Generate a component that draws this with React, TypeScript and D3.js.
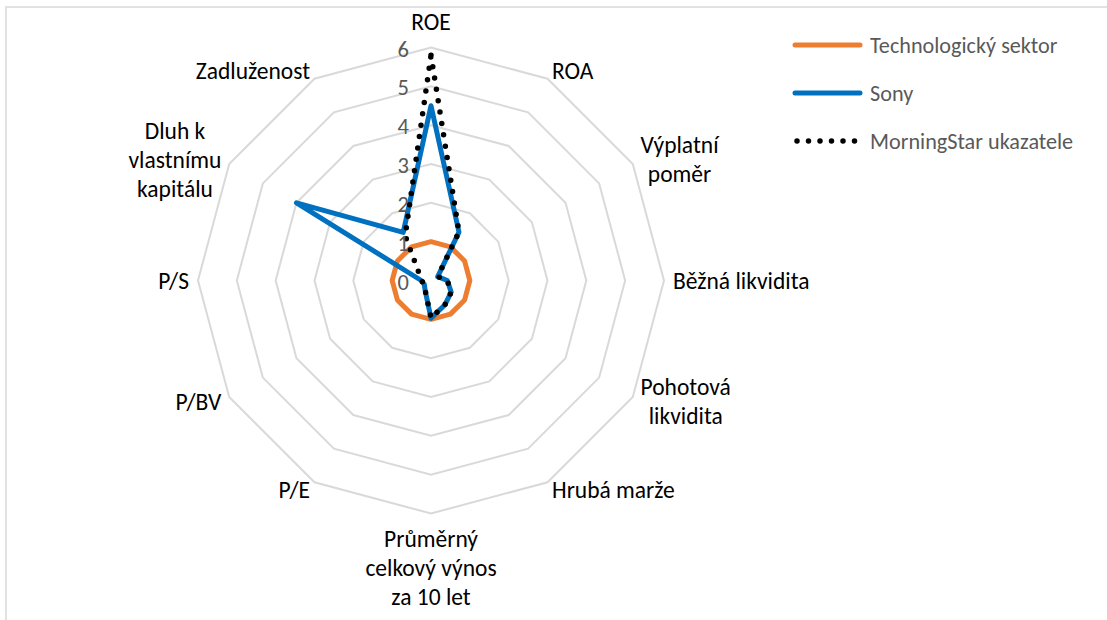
import React from "react";
import * as d3 from "d3";

const categories = [
  "ROE",
  "ROA",
  "Výplatní poměr",
  "Běžná likvidita",
  "Pohotová likvidita",
  "Hrubá marže",
  "Průměrný celkový výnos za 10 let",
  "P/E",
  "P/BV",
  "P/S",
  "Dluh k vlastnímu kapitálu",
  "Zadluženost",
];

const categoryLines = [
  ["ROE"],
  ["ROA"],
  ["Výplatní", "poměr"],
  ["Běžná likvidita"],
  ["Pohotová", "likvidita"],
  ["Hrubá marže"],
  ["Průměrný", "celkový výnos", "za 10 let"],
  ["P/E"],
  ["P/BV"],
  ["P/S"],
  ["Dluh k", "vlastnímu", "kapitálu"],
  ["Zadluženost"],
];

const techValues = [1, 1, 1, 1, 1, 1, 1, 1, 1, 1, 1, 1];
const sonyValues = [4.5, 1.44, 0.2, 0.42, 0.6, 0.72, 0.97, 0.3, 0.2, 0.25, 4.0, 1.43];
const morningStarValues = [5.8, 1.44, 0.2, 0.42, 0.6, 0.72, 0.97, 0.3, 0.2, 0.25, 0.35, 1.33];

const tickValues = [0, 1, 2, 3, 4, 5, 6];
const seriesNames = ["Technologický sektor", "Sony", "MorningStar ukazatele"];

const FONT = "Carlito, Calibri, Lato, 'Noto Sans', sans-serif";

function measure(text: string, size: number): number {
  const c = document.createElement("canvas").getContext("2d");
  if (!c) return text.length * size * 0.5;
  c.font = `${size}px ${FONT}`;
  return c.measureText(text).width;
}

export default function App() {
  const W = 1107;
  const H = 620;
  const cx = 431;
  const cy = 280.5;
  const R = 233;
  const n = categories.length;
  const catSize = 23.5;
  const lineH = 29;

  const r = d3.scaleLinear().domain([0, 6]).range([0, R]);
  const ang = (i: number) => (i * 2 * Math.PI) / n;

  const radial = d3
    .lineRadial<number>()
    .angle((_d, i) => ang(i))
    .radius((d) => r(d))
    .curve(d3.curveLinearClosed);

  const gridPaths = tickValues
    .filter((t) => t > 0)
    .map((t) => radial(categories.map(() => t)) || "");

  const series = [
    { name: seriesNames[0], values: techValues, color: "#ED7D31", dash: undefined as string | undefined, width: 5 },
    { name: seriesNames[1], values: sonyValues, color: "#0070C0", dash: undefined as string | undefined, width: 5 },
    { name: seriesNames[2], values: morningStarValues, color: "#000000", dash: "0 11.5", width: 5.5 },
  ];

  const labels = categoryLines.map((lines, i) => {
    const a = ang(i);
    const s = Math.sin(a);
    const c = Math.cos(a);
    const els: React.ReactNode[] = [];
    if (Math.abs(s) < 0.01) {
      if (c > 0) {
        const yLast = cy - (R + 26);
        lines.forEach((l, k) => {
          els.push(
            <text key={k} x={cx} y={yLast - (lines.length - 1 - k) * lineH} textAnchor="middle" dominantBaseline="central">
              {l}
            </text>
          );
        });
      } else {
        const yFirst = cy + (R + 25);
        lines.forEach((l, k) => {
          els.push(
            <text key={k} x={cx} y={yFirst + k * lineH} textAnchor="middle" dominantBaseline="central">
              {l}
            </text>
          );
        });
      }
    } else {
      const rr = R + 9;
      const px = cx + rr * s;
      const py = cy - rr * c;
      const bw = Math.max(...lines.map((l) => measure(l, catSize)));
      const mx = s > 0 ? px + bw / 2 : px - bw / 2;
      lines.forEach((l, k) => {
        els.push(
          <text key={k} x={mx} y={py - ((lines.length - 1) * lineH) / 2 + k * lineH} textAnchor="middle" dominantBaseline="central">
            {l}
          </text>
        );
      });
    }
    return <g key={i}>{els}</g>;
  });

  const legendY = d3.scalePoint<string>().domain(seriesNames).range([45, 141]);

  return (
    <div style={{ position: "absolute", left: 0, top: 0, width: W, height: H, background: "#fff" }}>
      <svg width={W} height={H} style={{ display: "block" }} fontFamily={FONT}>
        <rect x={6} y={7} width={W + 20} height={H + 20} fill="#fff" stroke="#d9d9d9" strokeWidth={1.5} />
        <g transform={`translate(${cx},${cy})`}>
          {gridPaths.map((d, i) => (
            <path key={i} d={d} fill="none" stroke="#d9d9d9" strokeWidth={2} />
          ))}
          {series.map((sr) => (
            <path
              key={sr.name}
              d={radial(sr.values) || ""}
              fill="none"
              stroke={sr.color}
              strokeWidth={sr.width}
              strokeDasharray={sr.dash}
              strokeLinecap="round"
              strokeLinejoin="round"
            />
          ))}
        </g>
        <g fill="#595959" fontSize={22.5}>
          {tickValues.map((t) => (
            <text key={t} x={cx - 22} y={cy - r(t) + 1.5} textAnchor="end" dominantBaseline="central">
              {t}
            </text>
          ))}
        </g>
        <g fill="#000" fontSize={catSize}>
          {labels}
        </g>
        <g>
          {series.map((sr) => {
            const y = legendY(sr.name) || 0;
            return (
              <g key={sr.name}>
                <line
                  x1={sr.dash ? 797 : 795}
                  x2={860}
                  y1={y}
                  y2={y}
                  stroke={sr.color}
                  strokeWidth={sr.width}
                  strokeDasharray={sr.dash}
                  strokeLinecap="round"
                />
                <text x={870} y={y} fill="#595959" fontSize={22.2} dominantBaseline="central">
                  {sr.name}
                </text>
              </g>
            );
          })}
        </g>
      </svg>
    </div>
  );
}
